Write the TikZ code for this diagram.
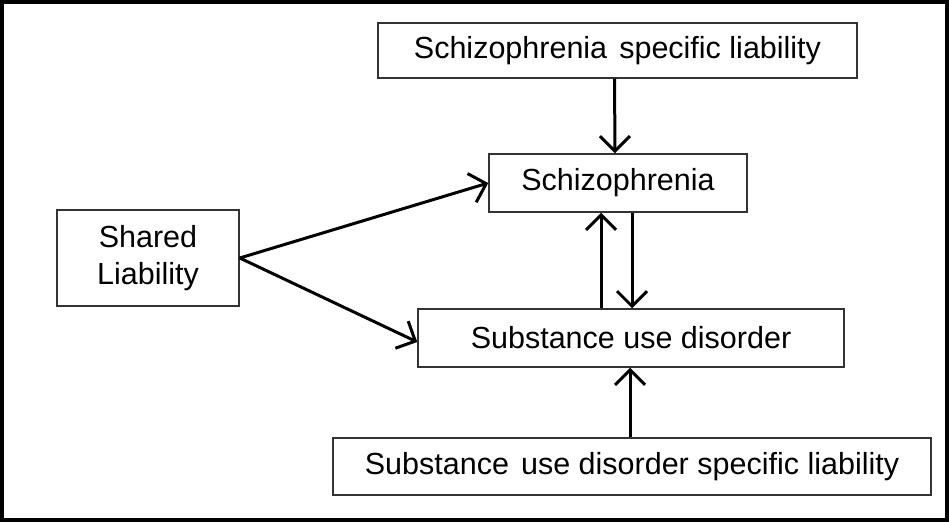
\documentclass[tikz,border=0pt]{standalone}
\usepackage{fontspec}
\setmainfont{Liberation Sans}
\usetikzlibrary{arrows.meta,positioning}

\begin{document}
\begin{tikzpicture}[x=1pt,y=-1pt,
            box/.style={rectangle, draw=black!80, line width=1.5pt,
                    inner sep=0pt, align=center,
                    font=\fontsize{30.5}{37}\selectfont},
            >={Straight Barb[length=15pt,width=30pt,line width=3pt]},
            link/.style={->, line width=3pt}]

        \useasboundingbox (0,0) rectangle (949,522);
        \draw[line width=4pt] (2,2) rectangle (947,520);

        \node[box,minimum width=479pt,minimum height=55pt] (sspec) at (617.5,50.5) {Schizophrenia\hspace{0.12em} specific liability};
        \node[box,minimum width=258pt,minimum height=58pt] (schiz) at (618,183) {Schizophrenia};
        \node[box,minimum width=182pt,minimum height=96pt] (shared) at (148,258) {Shared\\Liability};
        \node[box,minimum width=426pt,minimum height=58pt] (sud) at (631,338) {Substance use disorder};
        \node[box,minimum width=598pt,minimum height=57pt] (sudspec) at (632,466.5) {Substance\hspace{0.12em} use disorder specific liability};

        \draw[link] ([xshift=-3pt]sspec.south) -- ([xshift=-3pt]schiz.north);
        \draw[link] ([xshift=-17pt]schiz.south |- sud.north) -- ([xshift=-17pt]schiz.south);
        \draw[link] ([xshift=14pt]schiz.south) -- ([xshift=14pt]schiz.south |- sud.north);
        \draw[link] ([xshift=-2pt]sudspec.north) -- ([xshift=-2pt]sudspec.north |- sud.south);
        \draw[link] (shared.east) -- (schiz.west);
        \draw[link] (shared.east) -- ([yshift=-4pt]sud.west);
    \end{tikzpicture}
\end{document}
